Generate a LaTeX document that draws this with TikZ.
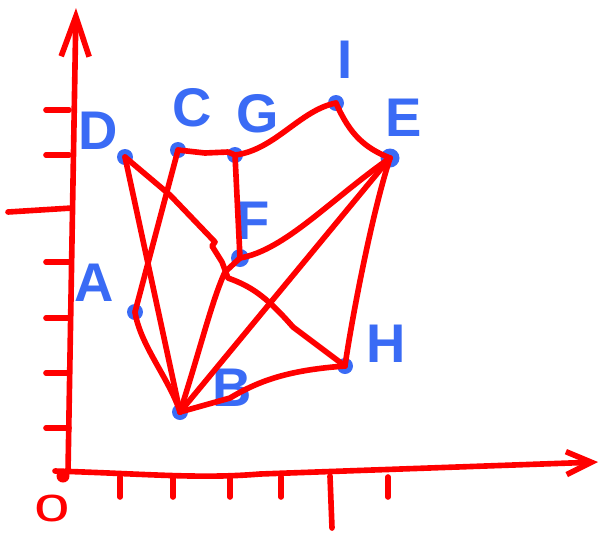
\documentclass[tikz,border=0pt]{standalone}
\usepackage{fontspec}
\setmainfont{Liberation Sans}
\usepackage{tikz}
\usetikzlibrary{arrows.meta}
\definecolor{penred}{HTML}{FF0000}
\definecolor{dotblue}{HTML}{3A6BF5}

\begin{document}
\begin{tikzpicture}[
  x=0.02cm, y=-0.02cm,
  pt/.style={circle, fill=dotblue, inner sep=0pt, minimum size=3.2mm},
  lbl/.style={font=\fontsize{31}{31}\selectfont\bfseries, text=dotblue},
  edge/.style={draw=penred, line width=3.2pt, line cap=round, line join=round},
  tick/.style={edge}
]
  \useasboundingbox (0,0) rectangle (602,532);

  % axes
  \coordinate (O) at (68,472);
  \coordinate (ytop) at (76,8);
  \coordinate (xend) at (598,462);
  \draw[edge, -{Straight Barb[length=8mm, width=5.6mm]}] (O) -- (ytop);
  \draw[edge, -{Straight Barb[length=5mm, width=4.6mm]}] (55,471)
    .. controls (150,474) and (200,479) .. (260,474) -- (xend);
  \fill[penred] (63,476) circle (1.3mm);
  \node[text=penred, font=\fontsize{28}{28}\selectfont, xscale=1.3,
        inner sep=0pt] (zero) at (52,508) {o};

  \foreach \y in {110,155,262,318,373,428}
    \draw[tick] (46,\y) -- (69,\y);
  \draw[tick] (8,212) -- (72,208);
  \foreach \x in {120,173,230,281,388}
    \draw[tick] (\x,477) -- (\x,497);
  \draw[tick] (330,476) -- (332,528);

  % points
  \node[pt] (D) at (125,157) {};
  \node[pt] (C) at (178,150) {};
  \node[pt] (G) at (235,155) {};
  \node[pt] (I) at (336,103) {};
  \node[pt, minimum size=3.8mm] (E) at (390,158) {};
  \node[pt, minimum size=3.6mm] (F) at (240,258) {};
  \node[pt] (A) at (135,312) {};
  \node[pt] (H) at (345,366) {};
  \node[pt] (B) at (180,412) {};

  \node[lbl] (lD) at (98,131) {D};
  \node[lbl] (lC) at (192,108) {C};
  \node[lbl] (lG) at (258,114) {G};
  \node[lbl] (lI) at (345,60) {I};
  \node[lbl] (lE) at (404,118) {E};
  \node[lbl] (lF) at (253,221) {F};
  \node[lbl] (lA) at (94,283) {A};
  \node[lbl] (lH) at (386,344) {H};
  \node[lbl] (lB) at (232,388) {B};

  % edges
  \draw[edge] (D.center) -- (B.center);
  \draw[edge] (D.center) -- (170,195) -- (215,242) -- (212,246) -- (222,262)
    -- (228,278) .. controls (250,286) and (265,295) .. (293,327) -- (H.center);
  \draw[edge] (B.center) .. controls (200,350) and (212,300) .. (225,272)
    -- (F.center);
  \draw[edge] (C.center) -- (A.center);
  \draw[edge] (A.center) .. controls (140,345) and (170,380) .. (B.center);
  \draw[edge] (C.center) -- (205,153) -- (228,152) -- (G.center);
  \draw[edge] (G.center) -- (F.center);
  \draw[edge] (G.center) .. controls (275,150) and (300,110) .. (I.center);
  \draw[edge] (I.center) .. controls (350,135) and (365,148) .. (E.center);
  \draw[edge] (F.center) .. controls (285,250) and (330,200) .. (E.center);
  \draw[edge] (E.center) -- (B.center);
  \draw[edge] (E.center) .. controls (370,220) and (350,330) .. (H.center);
  \draw[edge] (H.center) .. controls (290,370) and (260,380) .. (230,398)
    -- (B.center);
\end{tikzpicture}
\end{document}
